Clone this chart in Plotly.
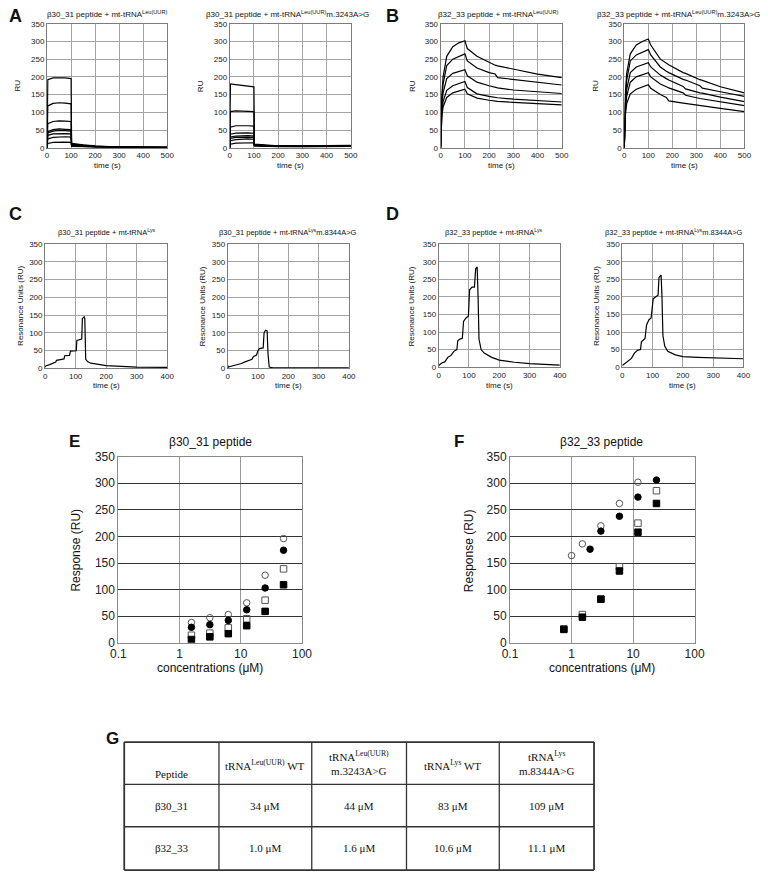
import plotly.graph_objects as go

W, H = 772, 879
FONT = "Liberation Sans, Arial, sans-serif"
SERIF = "Liberation Serif, Times New Roman, serif"

# ---------------- Panel A (beta30_31 + tRNA Leu(UUR)) ----------------
a_time = [0, 3, 25, 50, 75, 100, 102, 150, 200, 300, 500]
a_wt = [
    [0, 192, 197, 198, 197, 195, 12, 8, 5, 2, 1],
    [0, 118, 125, 127, 126, 124, 10, 7, 4, 2, 1],
    [0, 68, 74, 76, 75, 74, 9, 6, 4, 2, 1],
    [0, 45, 51, 53, 52, 51, 8, 5, 3, 2, 1],
    [0, 42, 47, 49, 48, 47, 7, 5, 3, 2, 1],
    [0, 35, 39, 40, 40, 39, 6, 4, 3, 1, 1],
    [0, 25, 29, 31, 31, 30, 5, 4, 2, 1, 0],
    [0, 12, 15, 16, 16, 15, 4, 3, 2, 1, 0],
]
a_mut = [
    [0, 180, 178, 176, 174, 172, 10, 7, 5, 5, 7],
    [0, 102, 104, 104, 103, 102, 9, 6, 5, 5, 6],
    [0, 58, 62, 63, 62, 61, 8, 6, 5, 4, 6],
    [0, 38, 41, 42, 42, 41, 7, 5, 4, 4, 5],
    [0, 30, 33, 34, 34, 33, 7, 5, 4, 4, 5],
    [0, 26, 29, 30, 30, 29, 6, 5, 4, 4, 5],
    [0, 20, 23, 25, 25, 24, 6, 4, 3, 3, 4],
    [0, 10, 13, 14, 14, 14, 5, 4, 3, 3, 4],
]

# ---------------- Panel B (beta32_33 + tRNA Leu(UUR)) ----------------
b_wt_time = [0, 2, 5, 10, 25, 50, 75, 100, 110, 150, 200, 225, 235, 300, 400, 500]
b_wt = [
    [0, 90, 150, 200, 258, 285, 296, 302, 280, 258, 240, 233, 231, 222, 208, 198],
    [0, 80, 135, 180, 232, 250, 258, 265, 245, 225, 212, 208, 198, 193, 184, 177],
    [0, 70, 120, 155, 195, 210, 215, 220, 203, 185, 175, 171, 169, 163, 157, 153],
    [0, 60, 100, 130, 162, 175, 181, 187, 170, 152, 145, 142, 141, 137, 133, 129],
    [0, 55, 90, 115, 142, 155, 160, 165, 152, 140, 134, 132, 131, 128, 124, 121],
]
b_mut_time = [0, 2, 5, 10, 25, 50, 75, 100, 110, 150, 175, 185, 245, 255, 315, 325, 400, 500]
b_mut = [
    [0, 95, 160, 210, 265, 290, 300, 307, 290, 250, 238, 234, 212, 210, 192, 190, 172, 155],
    [0, 85, 145, 190, 245, 262, 270, 277, 262, 228, 216, 212, 193, 191, 175, 168, 158, 145],
    [0, 75, 125, 165, 212, 228, 234, 240, 228, 205, 195, 191, 173, 166, 155, 154, 143, 130],
    [0, 65, 110, 145, 185, 200, 206, 212, 200, 180, 172, 169, 155, 148, 139, 138, 130, 119],
    [0, 55, 95, 125, 152, 165, 172, 178, 168, 150, 142, 132, 126, 125, 118, 117, 111, 102],
]

# ---------------- Panel C (beta30_31 + tRNA Lys) ----------------
c_wt_time = [0, 3, 15, 25, 35, 37, 48, 50, 62, 64, 80, 83, 102, 104, 120, 122, 128, 130, 133, 140, 150, 175, 200, 250, 300, 400]
c_wt = [3, 7, 10, 14, 17, 22, 22, 24, 26, 35, 36, 48, 49, 78, 82, 140, 145, 140, 25, 18, 14, 10, 7, 5, 3, 2]
c_mut_time = [0, 2, 5, 20, 30, 45, 55, 65, 70, 80, 85, 95, 100, 105, 117, 120, 125, 130, 133, 137, 150, 400]
c_mut = [8, 3, 4, 7, 10, 13, 17, 20, 22, 25, 33, 37, 50, 55, 57, 100, 107, 105, 40, 3, 1, 1]

# ---------------- Panel D (beta32_33 + tRNA Lys) ----------------
d_wt_time = [0, 10, 20, 30, 40, 50, 60, 63, 70, 78, 82, 90, 98, 102, 110, 118, 122, 127, 130, 133, 140, 150, 175, 200, 250, 300, 400]
d_wt = [5, 12, 15, 28, 33, 45, 50, 75, 80, 82, 130, 140, 145, 220, 228, 228, 280, 285, 200, 80, 50, 40, 28, 20, 14, 10, 6]
d_mut_time = [0, 10, 20, 30, 40, 50, 60, 63, 75, 80, 88, 95, 102, 110, 118, 121, 128, 131, 134, 140, 150, 175, 200, 250, 300, 400]
d_mut = [5, 12, 18, 25, 40, 48, 50, 72, 82, 120, 135, 140, 195, 200, 205, 255, 262, 200, 90, 60, 45, 35, 30, 28, 26, 24]

# ---------------- Panel E (beta30_31 dose response) ----------------
e_conc = [1.5625, 3.125, 6.25, 12.5, 25, 50]
e_leu_wt = [38, 47, 53, 75, 127, 196]      # open circles
e_leu_mut = [29, 34, 42, 62, 103, 174]     # filled circles
e_lys_wt = [14, 18, 28, 45, 80, 139]       # open squares
e_lys_mut = [6, 11, 17, 32, 59, 109]       # filled squares

# ---------------- Panel F (beta32_33 dose response) ----------------
f_leu_wt_conc = [1, 1.5, 3, 6, 12]
f_leu_wt = [164, 186, 220, 262, 302]
f_leu_mut_conc = [2, 3, 6, 12, 24]
f_leu_mut = [176, 210, 238, 274, 306]
f_lys_conc = [0.75, 1.5, 3, 6, 12, 24]
f_lys_wt = [26, 53, 82, 143, 225, 286]
f_lys_mut = [25, 48, 82, 135, 208, 262]

# ---------------- Panel G (table) ----------------
g_header = ["Peptide", "tRNA<sup>Leu(UUR)</sup> WT", "tRNA<sup>Leu(UUR)</sup><br>m.3243A>G",
            "tRNA<sup>Lys</sup> WT", "tRNA<sup>Lys</sup><br>m.8344A>G"]
g_peptides = ["β30_31", "β32_33"]
g_leu_wt = ["34 μM", "1.0 μM"]
g_leu_mut = ["44 μM", "1.6 μM"]
g_lys_wt = ["83 μM", "10.6 μM"]
g_lys_mut = ["109 μM", "11.1 μM"]

# ---------------- layout helpers ----------------
# pixel boxes (left, right, top, bottom)
boxes = [
    (40, 163, 17, 143),    # 1 A left
    (227, 351, 17, 143),   # 2 A right
    (443, 567, 17, 143),   # 3 B left
    (631, 754, 17, 143),   # 4 B right
    (38, 163, 241, 367),   # 5 C left
    (225, 349, 241, 367),  # 6 C right
    (441, 565, 241, 366),  # 7 D left
    (629, 753, 241, 366),  # 8 D right
    (113, 301, 457, 646),  # 9 E
    (514, 703, 457, 646),  # 10 F
]

def px(x):
    return x / W

def py(y):
    return 1 - y / H

fig = go.Figure()
layout = dict(width=W, height=H, margin=dict(l=0, r=0, t=0, b=0, pad=0), autosize=False,
              paper_bgcolor="white", plot_bgcolor="white", showlegend=False,
              font=dict(family=FONT, color="#111"))

for i, (l, r, t, b) in enumerate(boxes, start=1):
    sfx = "" if i == 1 else str(i)
    if i <= 8:
        xr = [0, 500] if i <= 4 else [0, 400]
        layout["xaxis" + sfx] = dict(domain=[px(l), px(r)], anchor="y" + sfx, range=xr, dtick=100, tick0=0,
                                     showgrid=True, gridcolor="#a3a3a3", gridwidth=1, showline=True,
                                     linecolor="#7c7c7c", linewidth=1, mirror=True, zeroline=False,
                                     ticks="", tickfont=dict(size=8, family=FONT, color="#222"), fixedrange=True)
        layout["yaxis" + sfx] = dict(domain=[py(b), py(t)], anchor="x" + sfx, range=[0, 350], dtick=50, tick0=0,
                                     showgrid=True, gridcolor="#a3a3a3", gridwidth=1, showline=True,
                                     linecolor="#7c7c7c", linewidth=1, mirror=True, zeroline=False,
                                     ticks="", tickfont=dict(size=8, family=FONT, color="#222"), fixedrange=True)
    else:
        layout["xaxis" + sfx] = dict(domain=[px(l), px(r)], anchor="y" + sfx, type="log", range=[-1, 2],
                                     tickvals=[0.1, 1, 10, 100], ticktext=["0.1", "1", "10", "100"],
                                     showgrid=True, gridcolor="#9a9a9a", gridwidth=1, showline=True,
                                     linecolor="#8a8a8a", linewidth=1, mirror=True, zeroline=False,
                                     ticks="", tickfont=dict(size=12, family=FONT, color="#222"), fixedrange=True)
        layout["yaxis" + sfx] = dict(domain=[py(b), py(t)], anchor="x" + sfx, range=[0, 350], dtick=50, tick0=0,
                                     showgrid=True, gridcolor="#333333", gridwidth=1, showline=True,
                                     linecolor="#8a8a8a", linewidth=1, mirror=True, zeroline=False,
                                     ticks="", tickfont=dict(size=12, family=FONT, color="#222"), fixedrange=True)


def ax(i):
    return ("x" if i == 1 else "x%d" % i), ("y" if i == 1 else "y%d" % i)


def add_line(i, t, v):
    xa, ya = ax(i)
    fig.add_trace(go.Scatter(x=t, y=v, mode="lines", line=dict(color="black", width=1.2),
                             xaxis=xa, yaxis=ya, hoverinfo="skip"))


for v in a_wt:
    add_line(1, a_time, v)
for v in a_mut:
    add_line(2, a_time, v)
for v in b_wt:
    add_line(3, b_wt_time, v)
for v in b_mut:
    add_line(4, b_mut_time, v)
add_line(5, c_wt_time, c_wt)
add_line(6, c_mut_time, c_mut)
add_line(7, d_wt_time, d_wt)
add_line(8, d_mut_time, d_mut)


def add_pts(i, x, y, symbol, color, size=6.5):
    xa, ya = ax(i)
    fig.add_trace(go.Scatter(x=x, y=y, mode="markers", xaxis=xa, yaxis=ya,
                             marker=dict(symbol=symbol, size=size, color=color,
                                         line=dict(color=color, width=1))))


add_pts(9, e_conc, e_lys_wt, "square-open", "#555555")
add_pts(9, e_conc, e_lys_mut, "square", "black")
add_pts(9, e_conc, e_leu_wt, "circle-open", "#555555")
add_pts(9, e_conc, e_leu_mut, "circle", "black")

add_pts(10, f_lys_conc, f_lys_wt, "square-open", "#555555")
add_pts(10, f_lys_conc, f_lys_mut, "square", "black")
add_pts(10, f_leu_wt_conc, f_leu_wt, "circle-open", "#555555")
add_pts(10, f_leu_mut_conc, f_leu_mut, "circle", "black")

ann = []


def text(x, y, s, size, bold=False, angle=0, family=FONT):
    ann.append(dict(x=px(x), y=py(y), xref="paper", yref="paper", text=("<b>%s</b>" % s) if bold else s,
                    showarrow=False, xanchor="center", yanchor="middle", textangle=angle,
                    font=dict(size=size, family=family, color="#111")))


# ---------------- table G (drawn as grid + cell texts) ----------------
t_cols = [119, 216, 311, 408, 503, 600]
t_rows = [747, 790, 833, 877]
shapes = []
for j, x in enumerate(t_cols):
    w = 1.8 if j in (0, len(t_cols) - 1) else 1.3
    shapes.append(dict(type="line", xref="paper", yref="paper", x0=px(x), x1=px(x),
                       y0=py(t_rows[0]), y1=py(t_rows[-1]), line=dict(color="#333333", width=w)))
for k, y in enumerate(t_rows):
    w = 1.8 if k in (0, len(t_rows) - 1) else 1.3
    shapes.append(dict(type="line", xref="paper", yref="paper", x0=px(t_cols[0]), x1=px(t_cols[-1]),
                       y0=py(y), y1=py(y), line=dict(color="#333333", width=w)))

centers = [(t_cols[j] + t_cols[j + 1]) / 2 for j in range(5)]
header_y = [779, 770, 768, 770, 768]
for j, h in enumerate(g_header):
    text(centers[j], header_y[j], h, 11, family=SERIF)
cols = [g_peptides, g_leu_wt, g_leu_mut, g_lys_wt, g_lys_mut]
for j, col in enumerate(cols):
    for k, v in enumerate(col):
        text(centers[j], (t_rows[k + 1] + t_rows[k + 2]) / 2, v, 11, family=SERIF)

# panel letters
for lt, x, y, s in [("A", 8, 9, 18), ("B", 394, 9, 18), ("C", 8, 210, 18), ("D", 394, 210, 18),
                    ("E", 68, 442, 17), ("F", 462, 442, 17), ("G", 107, 743, 17)]:
    text(x, y, lt, s, bold=True)

# titles
text(101, 7, "β30_31 peptide + mt-tRNA<sup>Leu(UUR)</sup>", 8)
text(286, 7, "β30_31 peptide + mt-tRNA<sup>Leu(UUR)</sup>m.3243A>G", 8)
text(502, 7, "β32_33 peptide + mt-tRNA<sup>Leu(UUR)</sup>", 8)
text(686, 7, "β32_33 peptide + mt-tRNA<sup>Leu(UUR)</sup>m.3243A>G", 8)
text(101, 229, "β30_31 peptide + mt-tRNA<sup>Lys</sup>", 7.5)
text(287, 229, "β30_31 peptide + mt-tRNA<sup>Lys</sup>m.8344A>G", 7.5)
text(498, 229, "β32_33 peptide + mt-tRNA<sup>Lys</sup>", 7.5)
text(682, 229, "β32_33 peptide + mt-tRNA<sup>Lys</sup>m.8344A>G", 7.5)
text(207, 442, "β30_31 peptide", 12)
text(608, 442, "β32_33 peptide", 12)

# axis titles
for (l, r, t, b) in boxes[:4]:
    text((l + r) / 2, 161, "time (s)", 8)
for (l, r, t, b) in boxes[4:8]:
    text((l + r) / 2, 385, "time (s)", 8)
for x in [10, 197, 414, 602]:
    text(x, 80, "RU", 8, angle=-90)
for x in [12, 199, 413, 602]:
    text(x, 304, "Resonance Units (RU)", 8, angle=-90)
text(207, 672, "concentrations (μM)", 12)
text(608, 672, "concentrations (μM)", 12)
text(70, 552, "Response (RU)", 12, angle=-90)
text(472, 552, "Response (RU)", 12, angle=-90)

layout["annotations"] = ann
layout["shapes"] = shapes
fig.update_layout(**layout)
fig.write_html("out.html", config={"displayModeBar": False},
               post_script="document.body.style.margin='0';document.body.style.padding='0';")
